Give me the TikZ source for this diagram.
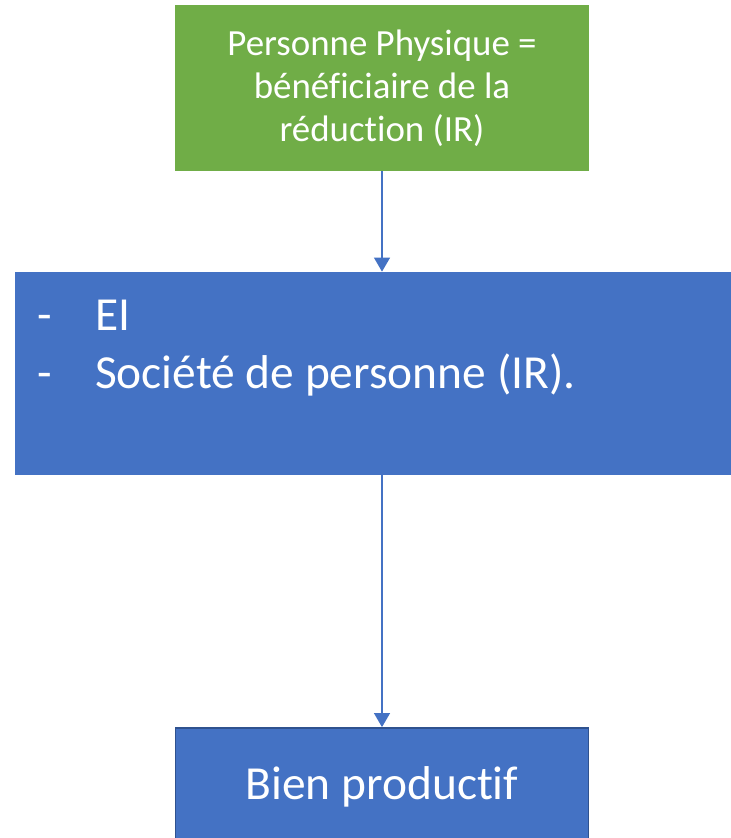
\documentclass[tikz,border=0pt]{standalone}
\usepackage{fontspec}
\setmainfont{Carlito}[Ligatures = NoCommon]
\usetikzlibrary{arrows.meta}

\definecolor{officegreen}{HTML}{70AD47}
\definecolor{officeblue}{HTML}{4472C4}
\definecolor{officeborder}{HTML}{2F528F}

\begin{document}
\begin{tikzpicture}[x = 0.02cm, y = -0.02cm, > = {Triangle[length = 8pt, width = 9pt]},
	box/.style = {rectangle, inner sep = 0pt, text = white, align = center},
	link/.style = {->, officeblue, line width = 1.1pt}]

	% Frame
	
	\useasboundingbox (0, 0) rectangle (730, 838);
	
	% Boxes
	
	\node [box, fill = officegreen, minimum width = 8.28cm, minimum height = 3.32cm,
		font = \fontsize{21pt}{24.4pt}\selectfont] (personne) at (382, 88)
		{Personne Physique =\\bénéficiaire de la\\réduction (IR)};
	
	\node [box, fill = officeblue, minimum width = 14.68cm, minimum height = 4.06cm,
		text width = 13.8cm, align = flush left, font = \fontsize{27pt}{32.9pt}\selectfont] (entreprise) at (382, 373.5)
		{\makebox[1.16cm][l]{-}EI\\\makebox[1.16cm][l]{-}Société de personne (IR).\\~};
	
	\node [box, fill = officeblue, draw = officeborder, line width = 1pt, minimum width = 8.26cm, minimum height = 2.36cm,
		font = \fontsize{27pt}{32.9pt}\selectfont] (bien) at (382, 787)
		{Bien productif};
	
	% Arrows
	
	\draw [link] (personne) -- (entreprise);
	\draw [link] (entreprise) -- (bien);

\end{tikzpicture}
\end{document}
